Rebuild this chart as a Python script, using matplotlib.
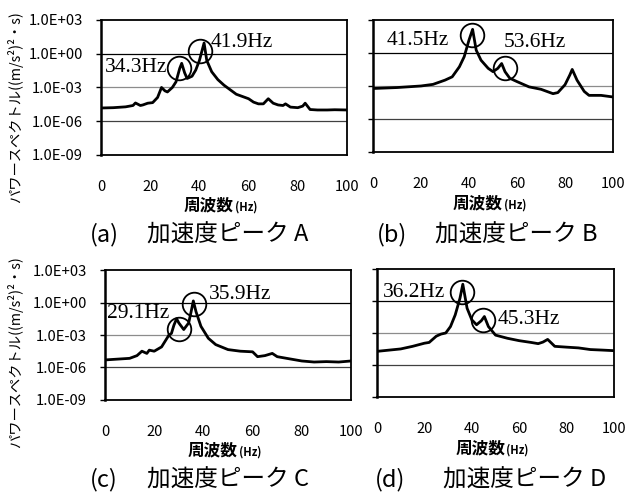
import matplotlib
matplotlib.use('Agg')
import matplotlib.pyplot as plt

plt.rcParams['font.family'] = ['Noto Sans CJK JP', 'DejaVu Sans']

# ---- data ----
freq_a = [0, 5, 10, 13, 14, 16, 17, 19, 21, 23, 24.6, 26, 27, 29, 30.5, 32, 32.8, 34, 35, 37,
          38.5, 40, 41.9, 43, 45, 47.5, 50, 55, 60, 62, 64, 66, 68, 70, 72, 74, 75, 77, 80,
          82, 83, 85, 88, 92, 95, 100]
psd_a = [1.5e-5, 1.6e-5, 1.9e-5, 2.5e-5, 4.2e-5, 2.5e-5, 2.8e-5, 4.0e-5, 4.5e-5, 1.3e-4, 1.0e-3,
         5.0e-4, 4.0e-4, 1.0e-3, 3.2e-3, 5.0e-2, 1.4e-1, 2.0e-2, 6.3e-3, 1.0e-2, 3.5e-2, 2.5e-1,
         9.0, 2.5e-1, 2.5e-2, 5.0e-3, 1.6e-3, 2.5e-4, 1.0e-4, 5.0e-5, 3.5e-5, 3.5e-5, 1.0e-4,
         4.0e-5, 2.8e-5, 2.5e-5, 3.5e-5, 1.8e-5, 1.6e-5, 2.2e-5, 4.0e-5, 1.1e-5, 1.0e-5, 1.0e-5,
         1.05e-5, 1.0e-5]

freq_b = [0, 10, 20, 25, 30, 33, 36, 38, 40, 41.5, 43, 45, 48, 50, 52, 53.6, 55, 57, 60, 65, 70,
          75, 77, 80, 82, 83, 85, 88, 90, 95, 100]
psd_b = [5.9e-4, 7.2e-4, 1.0e-3, 1.4e-3, 3.4e-3, 6.8e-3, 5.6e-2, 0.46, 15, 140, 1.8, 0.22,
         4.0e-2, 2.0e-2, 4.0e-2, 0.11, 2.0e-2, 5.0e-3, 2.5e-3, 8.3e-4, 5.0e-4, 2.0e-4, 2.5e-4,
         1.3e-3, 1.0e-2, 3.2e-2, 3.4e-3, 3.2e-4, 1.4e-4, 1.4e-4, 1.0e-4]

freq_c = [0, 10, 13, 15, 17, 18, 20, 23, 26, 27, 28, 29.1, 30, 32, 34, 35, 35.9, 37, 39, 42, 45,
          50, 55, 60, 62, 65, 68, 70, 75, 80, 85, 90, 95, 100]
psd_c = [5.0e-6, 7.0e-6, 1.25e-5, 3.2e-5, 2.0e-5, 4.0e-5, 3.2e-5, 8.0e-5, 1.0e-3, 1.4e-3,
         7.9e-3, 3.2e-2, 1.3e-2, 3.2e-3, 1.3e-2, 0.14, 1.4, 0.14, 6.3e-3, 5.0e-4, 1.3e-4,
         4.5e-5, 3.2e-5, 2.8e-5, 1.0e-5, 1.25e-5, 2.0e-5, 1.0e-5, 6.3e-6, 4.0e-6, 3.2e-6,
         3.5e-6, 3.2e-6, 4.0e-6]

freq_d = [0, 10, 15, 20, 22, 25, 27, 29, 31, 33, 35, 36.2, 37, 38, 40, 42, 44, 45.3, 47, 50, 55,
          60, 65, 68, 70, 72, 75, 80, 85, 90, 95, 100]
psd_d = [1.9e-5, 3.2e-5, 5.6e-5, 1.1e-4, 1.3e-4, 5.0e-4, 7.9e-4, 1.0e-3, 4.0e-3, 5.0e-2, 1.8,
         37, 3.7, 0.21, 1.7e-2, 5.9e-3, 1.4e-2, 3.5e-2, 4.0e-3, 6.3e-4, 3.2e-4, 1.9e-4, 1.3e-4,
         1.0e-4, 1.4e-4, 2.5e-4, 5.6e-5, 4.7e-5, 4.0e-5, 2.8e-5, 2.5e-5, 2.2e-5]

peak_labels = [['34.3Hz', '41.9Hz'], ['41.5Hz', '53.6Hz'], ['29.1Hz', '35.9Hz'], ['36.2Hz', '45.3Hz']]
captions = ['(a)', '(b)', '(c)', '(d)']
caption_text = ['加速度ピーク A', '加速度ピーク B', '加速度ピーク C', '加速度ピーク D']
ytick_vals = [1e3, 1e0, 1e-3, 1e-6, 1e-9]
ytick_labels = ['1.0E+03', '1.0E+00', '1.0E-03', '1.0E-06', '1.0E-09']
xtick_vals = [0, 20, 40, 60, 80, 100]

# ---- layout (figure fractions) ----
panels = [
    dict(f=freq_a, p=psd_a, rect=[0.1611, 0.6850, 0.3923, 0.2744],
         circles=[(31.7, 5.4e-2), (40.2, 1.7)],
         texts=[(1.6, 5.4e-2), (44.7, 9.0)],
         cap=(0.1435, 0.2344, 0.5224), xl=0.573, ylab=True),
    dict(f=freq_b, p=psd_b, rect=[0.5949, 0.6911, 0.3828, 0.2683],
         circles=[(41.3, 44), (55.0, 4.4e-2)],
         texts=[(5.8, 15), (54.6, 8.1)],
         cap=(0.601, 0.694, 0.5224), xl=0.577, ylab=False),
    dict(f=freq_c, p=psd_c, rect=[0.1675, 0.1870, 0.3923, 0.2642],
         circles=[(30.1, 3.5e-3), (36.2, 0.72)],
         texts=[(0.8, 0.107), (42.3, 6.0)],
         cap=(0.1435, 0.2344, 0.0244), xl=0.075, ylab=True),
    dict(f=freq_d, p=psd_d, rect=[0.6013, 0.1931, 0.378, 0.2602],
         circles=[(35.9, 6.9), (44.7, 1.66e-2)],
         texts=[(2.5, 6.9), (51.0, 1.66e-2)],
         cap=(0.598, 0.7065, 0.0244), xl=0.079, ylab=False),
]

fig = plt.figure(figsize=(6.27, 4.92), dpi=100)
grid_colors = ['#000000', '#8c8c8c', '#404040']

for i, pn in enumerate(panels):
    ax = fig.add_axes(pn['rect'])
    ax.plot(pn['f'], pn['p'], color='k', lw=2.0, solid_joinstyle='round')
    ax.set_yscale('log')
    ax.set_ylim(1e-9, 1e3)
    ax.set_xlim(0, 100)
    ax.set_yticks(ytick_vals)
    ax.minorticks_off()
    ax.set_xticks(xtick_vals)
    ax.tick_params(axis='x', length=0, pad=18, labelsize=10.5)
    ax.tick_params(axis='y', length=3.6, width=1.0, pad=9.5, labelsize=10.7)
    if pn['ylab']:
        ax.set_yticklabels(ytick_labels)
    else:
        ax.set_yticklabels([])
    for yv, c in zip(ytick_vals[1:4], grid_colors):
        ax.axhline(yv, color=c, lw=0.9, zorder=0.5)
    for s in ax.spines.values():
        s.set_linewidth(1.3)
    ax.spines['left'].set_linewidth(1.8)

    # circled peaks and their labels
    for (cx, cy) in pn['circles']:
        ax.plot(cx, cy, 'o', ms=17, mfc='none', mec='k', mew=1.3)
    for (tx, ty), lab in zip(pn['texts'], peak_labels[i]):
        ax.text(tx, ty, lab, family='Liberation Serif', fontsize=15.5, ha='left', va='center')

    # x label: bold kanji + small (Hz)
    xs = pn['rect'][0] + 0.54 * pn['rect'][2]
    fig.text(xs, pn['xl'], '周波数', fontsize=12, fontweight='bold', ha='right', va='baseline')
    fig.text(xs + 0.002, pn['xl'], '(Hz)', fontsize=8, fontweight='bold', ha='left', va='baseline')

    c0, c1, cy = pn['cap']
    fig.text(c0, cy, captions[i], fontsize=17, ha='left', va='center')
    fig.text(c1, cy, caption_text[i], fontsize=17, ha='left', va='center')

# y labels
for yc in [1 - 107 / 492, 1 - 352 / 492]:
    fig.text(0.024, yc, 'パワースペクトル((m/s²)²・s)', rotation=90, fontsize=10.3,
             ha='center', va='center')

fig.savefig('out.png', dpi=100)
